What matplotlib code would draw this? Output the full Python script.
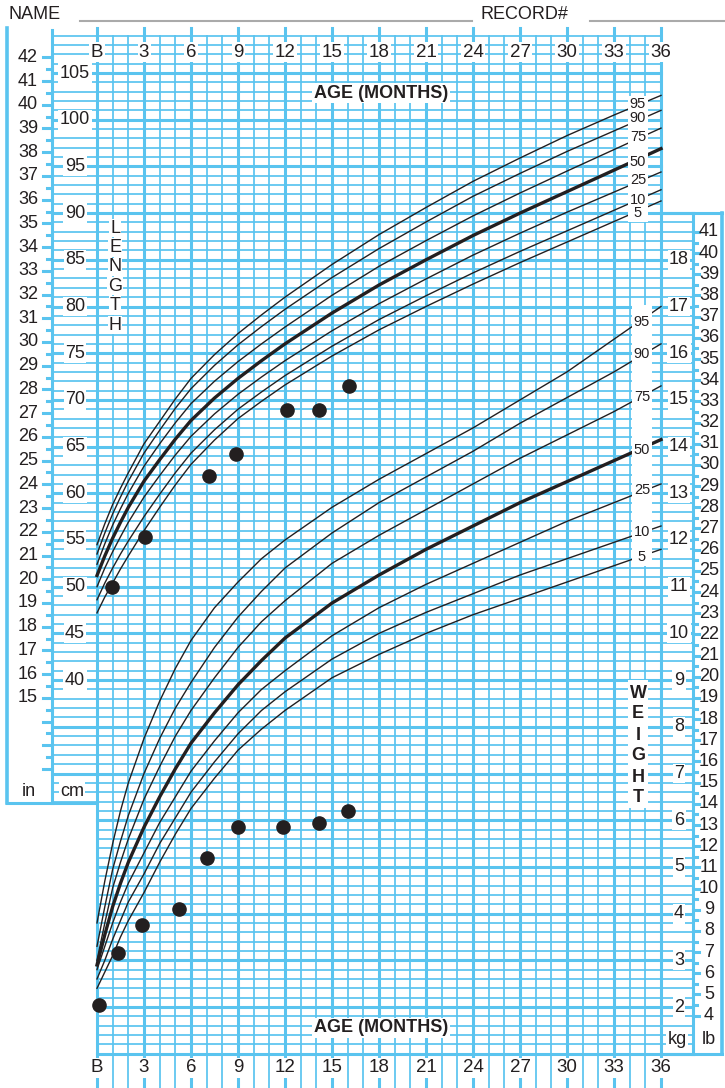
import matplotlib
matplotlib.use("Agg")
import matplotlib.pyplot as plt
from matplotlib.patches import Rectangle

# ---- data ----
months = [0, 0.5, 1, 1.5, 2, 3, 4, 5, 6, 7.5, 9, 10.5, 12, 15, 18, 21, 24, 27, 30, 33, 36]
pct = ["95", "90", "75", "50", "25", "10", "5"]

# length-for-age percentiles (cm)
len_95 = [54.5, 56.75, 58.8, 60.55, 62.2, 65.3, 67.7, 70.1, 72.3, 74.85, 77.1, 79.1, 81.0, 84.5, 87.7, 90.6, 93.4, 95.9, 98.3, 100.5, 102.6]
len_90 = [53.5, 55.75, 57.8, 59.6, 61.3, 64.3, 66.75, 69.1, 71.2, 73.7, 75.9, 77.85, 79.7, 83.1, 86.2, 89.05, 91.8, 94.25, 96.6, 98.8, 101.0]
len_75 = [52.4, 54.6, 56.6, 58.35, 60.0, 62.9, 65.3, 67.55, 69.6, 72.0, 74.1, 76.0, 77.8, 81.2, 84.3, 87.05, 89.7, 92.15, 94.5, 96.8, 99.1]
len_50 = [51.2, 53.3, 55.2, 56.9, 58.5, 61.3, 63.6, 65.8, 67.8, 70.2, 72.3, 74.2, 76.0, 79.3, 82.3, 85.0, 87.6, 90.0, 92.3, 94.6, 96.9]
len_25 = [50.0, 52.0, 53.75, 55.35, 56.9, 59.6, 61.9, 64.1, 66.1, 68.5, 70.6, 72.45, 74.2, 77.4, 80.3, 82.95, 85.5, 87.85, 90.1, 92.25, 94.4]
len_10 = [48.6, 50.4, 52.0, 53.5, 54.9, 57.5, 59.9, 62.2, 64.3, 66.8, 69.0, 70.85, 72.6, 75.75, 78.6, 81.15, 83.6, 85.9, 88.1, 90.3, 92.5]
len_5 = [47.2, 48.9, 50.4, 51.9, 53.3, 56.0, 58.5, 60.9, 63.1, 65.7, 68.0, 69.85, 71.6, 74.7, 77.5, 80.0, 82.4, 84.7, 86.9, 89.1, 91.3]

# weight-for-age percentiles (kg)
wt_95 = [3.8, 4.7, 5.5, 6.2, 6.8, 7.75, 8.55, 9.25, 9.85, 10.55, 11.1, 11.6, 12.0, 12.7, 13.3, 13.85, 14.4, 15.0, 15.6, 16.3, 17.0]
wt_90 = [3.3, 4.15, 4.95, 5.55, 6.1, 7.0, 7.75, 8.4, 8.95, 9.7, 10.35, 10.9, 11.4, 12.15, 12.8, 13.35, 13.9, 14.5, 15.05, 15.6, 16.2]
wt_75 = [3.0, 3.8, 4.55, 5.1, 5.6, 6.45, 7.15, 7.8, 8.35, 9.05, 9.7, 10.25, 10.7, 11.5, 12.1, 12.65, 13.2, 13.75, 14.25, 14.75, 15.3]
wt_50 = [2.9, 3.55, 4.15, 4.65, 5.1, 5.85, 6.5, 7.1, 7.65, 8.3, 8.9, 9.42, 9.9, 10.65, 11.25, 11.8, 12.3, 12.8, 13.25, 13.7, 14.15]
wt_25 = [2.8, 3.3, 3.8, 4.25, 4.65, 5.3, 5.95, 6.5, 7.05, 7.7, 8.3, 8.8, 9.2, 9.95, 10.55, 11.05, 11.5, 11.95, 12.4, 12.8, 13.2]
wt_10 = [2.6, 3.0, 3.45, 3.85, 4.25, 4.85, 5.5, 6.05, 6.6, 7.25, 7.85, 8.35, 8.75, 9.45, 10.0, 10.45, 10.85, 11.25, 11.6, 11.95, 12.3]
wt_5 = [2.4, 2.75, 3.1, 3.5, 3.85, 4.45, 5.1, 5.7, 6.25, 6.9, 7.5, 7.95, 8.35, 9.05, 9.55, 10.0, 10.4, 10.75, 11.1, 11.45, 11.8]

# the child's measurements
len_age = [0.95, 3.05, 7.15, 8.9, 12.1, 14.2, 16.1]
len_val = [50.0, 55.3, 61.9, 64.2, 68.9, 68.9, 71.5]
wt_age = [0.15, 1.35, 2.9, 5.25, 7.05, 9.0, 11.9, 14.2, 16.0]
wt_val = [2.05, 3.15, 3.75, 4.1, 5.2, 5.85, 5.85, 5.95, 6.2]

month_labels = ["B", "3", "6", "9", "12", "15", "18", "21", "24", "27", "30", "33", "36"]
cm_labels = list(range(40, 106, 5))
in_labels = list(range(15, 43))
kg_labels = list(range(2, 19))
lb_labels = list(range(4, 42))

lengths = [len_95, len_90, len_75, len_50, len_25, len_10, len_5]
weights = [wt_95, wt_90, wt_75, wt_50, wt_25, wt_10, wt_5]

GRID = "#5ac4ef"
INK = "#231f20"
MINOR, MAJOR = 1.25, 2.2
plt.rcParams["font.family"] = ["Liberation Sans", "DejaVu Sans"]

# pixel -> data helpers (x in months, y in cm; weight shares the scale as 5*kg-5)
def mx(px):
    return (px - 97) / 15.667

def cy(py):
    return 105 - (py - 73) / 9.34

def kg2y(kg):
    return 5 * kg - 5

fig = plt.figure(figsize=(7.25, 10.88), dpi=100)
ax = fig.add_axes([0, 0, 1, 1])
ax.set_xlim(mx(0), mx(725))
ax.set_ylim(cy(1088), cy(0))
ax.axis("off")

# ---- grid ----
left_bottom = cy(803)  # bottom of inch / cm columns
for y in range(0, 110):
    major = y % 5 == 0
    x0 = mx(52) if y > left_bottom else 0
    x1 = 36 if y > 90 else mx(693)
    ax.plot([x0, x1], [y, y], color=GRID, lw=MAJOR if major else MINOR, zorder=1)
for m in range(0, 37):
    major = m % 3 == 0
    top = cy(28) if major else 109
    ax.plot([m, m], [cy(1088), top], color=GRID, lw=MAJOR if major else MINOR, zorder=1)

# left columns
ax.plot([mx(7), mx(7)], [left_bottom, cy(28)], color=GRID, lw=2.6, zorder=1)
ax.plot([mx(52), mx(52)], [left_bottom, cy(30)], color=GRID, lw=MAJOR, zorder=1)
ax.plot([mx(7), 0], [left_bottom, left_bottom], color=GRID, lw=MAJOR, zorder=1)
for h in range(22, 85):
    yv = h / 2 * 2.54
    if yv < left_bottom + 3.5 or yv > 109:
        continue
    x0 = mx(43) if h % 2 == 0 else mx(47)
    ax.plot([x0, mx(52)], [yv, yv], color=GRID, lw=MAJOR, zorder=1)
for v in in_labels:
    ax.text(mx(28), v * 2.54, str(v), ha="center", va="center", fontsize=13, color=INK)
for v in cm_labels:
    ax.text(mx(75), v, str(v), ha="center", va="center", fontsize=13, color=INK,
            bbox=dict(facecolor="white", edgecolor="none", pad=1), zorder=2)
ax.text(mx(29), cy(791), "in", ha="center", va="center", fontsize=13, color=INK)
ax.text(mx(72), cy(791), "cm", ha="center", va="center", fontsize=13, color=INK,
        bbox=dict(facecolor="white", edgecolor="none", pad=1), zorder=2)

# right columns
ax.plot([mx(693), mx(693)], [0, 90], color=GRID, lw=MAJOR, zorder=1)
ax.plot([mx(722), mx(722)], [0, 90], color=GRID, lw=2.6, zorder=1)
ax.plot([36, mx(722)], [90, 90], color=GRID, lw=MAJOR, zorder=1)
ax.plot([36, mx(722)], [0, 0], color=GRID, lw=MAJOR, zorder=1)
for h in range(8, 84):
    yv = kg2y(h / 2 * 0.45359)
    if yv < 1 or yv > 89:
        continue
    ax.plot([mx(693), mx(699) if h % 2 == 0 else mx(697)], [yv, yv], color=GRID, lw=MAJOR, zorder=1)
for v in lb_labels:
    ax.text(mx(709), kg2y(v * 0.45359), str(v), ha="center", va="center", fontsize=13, color=INK)
for v in kg_labels:
    ax.text(mx(679), kg2y(v), str(v), ha="center", va="center", fontsize=13, color=INK,
            bbox=dict(facecolor="white", edgecolor="none", pad=1), zorder=2)
ax.text(mx(677), cy(1040), "kg", ha="center", va="center", fontsize=13, color=INK,
        bbox=dict(facecolor="white", edgecolor="none", pad=1), zorder=2)
ax.text(mx(709), cy(1040), "lb", ha="center", va="center", fontsize=13, color=INK)

# month labels top and bottom
for i, lab in enumerate(month_labels):
    for py in (52, 1068):
        ax.text(i * 3, cy(py), lab, ha="center", va="center", fontsize=13.5, color=INK,
                bbox=dict(facecolor="white", edgecolor="none", pad=1), zorder=2)

ax.text(mx(381), cy(93), "AGE (MONTHS)", ha="center", va="center", fontsize=13, fontweight="bold",
        color=INK, bbox=dict(facecolor="white", edgecolor="none", pad=1), zorder=2)
ax.text(mx(381), cy(1028), "AGE (MONTHS)", ha="center", va="center", fontsize=13, fontweight="bold",
        color=INK, bbox=dict(facecolor="white", edgecolor="none", pad=1), zorder=2)

for i, ch in enumerate("LENGTH"):
    ax.text(mx(115), cy(228 + i * 19.4), ch, ha="center", va="center", fontsize=13, color=INK,
            bbox=dict(facecolor="white", edgecolor="none", pad=0.5), zorder=2)
ax.add_patch(Rectangle((mx(628), cy(808)), mx(648) - mx(628), cy(680) - cy(808),
                       facecolor="white", edgecolor="none", zorder=2))
for i, ch in enumerate("WEIGHT"):
    ax.text(mx(638), cy(693 + i * 21), ch, ha="center", va="center", fontsize=13,
            fontweight="bold", color=INK, zorder=3)

# ---- percentile curves ----
for p, lv, wv in zip(pct, lengths, weights):
    lw = 2.4 if p == "50" else 1.0
    ax.plot(months, lv, color=INK, lw=lw, zorder=3)
    ax.plot(months, [kg2y(w) for w in wv], color=INK, lw=lw, zorder=3)

ax.add_patch(Rectangle((mx(628), cy(222)), mx(648) - mx(628), cy(96) - cy(222),
                       facecolor="white", edgecolor="none", zorder=4))
ax.add_patch(Rectangle((mx(632), cy(566)), mx(652) - mx(632), cy(305) - cy(566),
                       facecolor="white", edgecolor="none", zorder=4))
len_lab_y = [104, 118, 137, 162, 180, 200, 213]
wt_lab_y = [322, 354, 397, 450, 490, 532, 557]
for p, ly, wy in zip(pct, len_lab_y, wt_lab_y):
    ax.text(mx(638), cy(ly), p, ha="center", va="center", fontsize=10.5, color=INK, zorder=5)
    ax.text(mx(642), cy(wy), p, ha="center", va="center", fontsize=10.5, color=INK, zorder=5)

# ---- child's points ----
ax.plot(len_age, len_val, "o", color=INK, ms=9.5, zorder=6)
ax.plot(wt_age, [kg2y(w) for w in wt_val], "o", color=INK, ms=9.5, zorder=6)

# ---- header ----
ax.text(mx(8), cy(14), "NAME", ha="left", va="center", fontsize=13, color=INK)
ax.plot([mx(80), mx(472)], [cy(21), cy(21)], color="#aaaaaa", lw=1.5)
ax.text(mx(480), cy(14), "RECORD#", ha="left", va="center", fontsize=13, color=INK)
ax.plot([mx(590), mx(725)], [cy(21), cy(21)], color="#aaaaaa", lw=1.5)

fig.savefig("out.png", dpi=100)
